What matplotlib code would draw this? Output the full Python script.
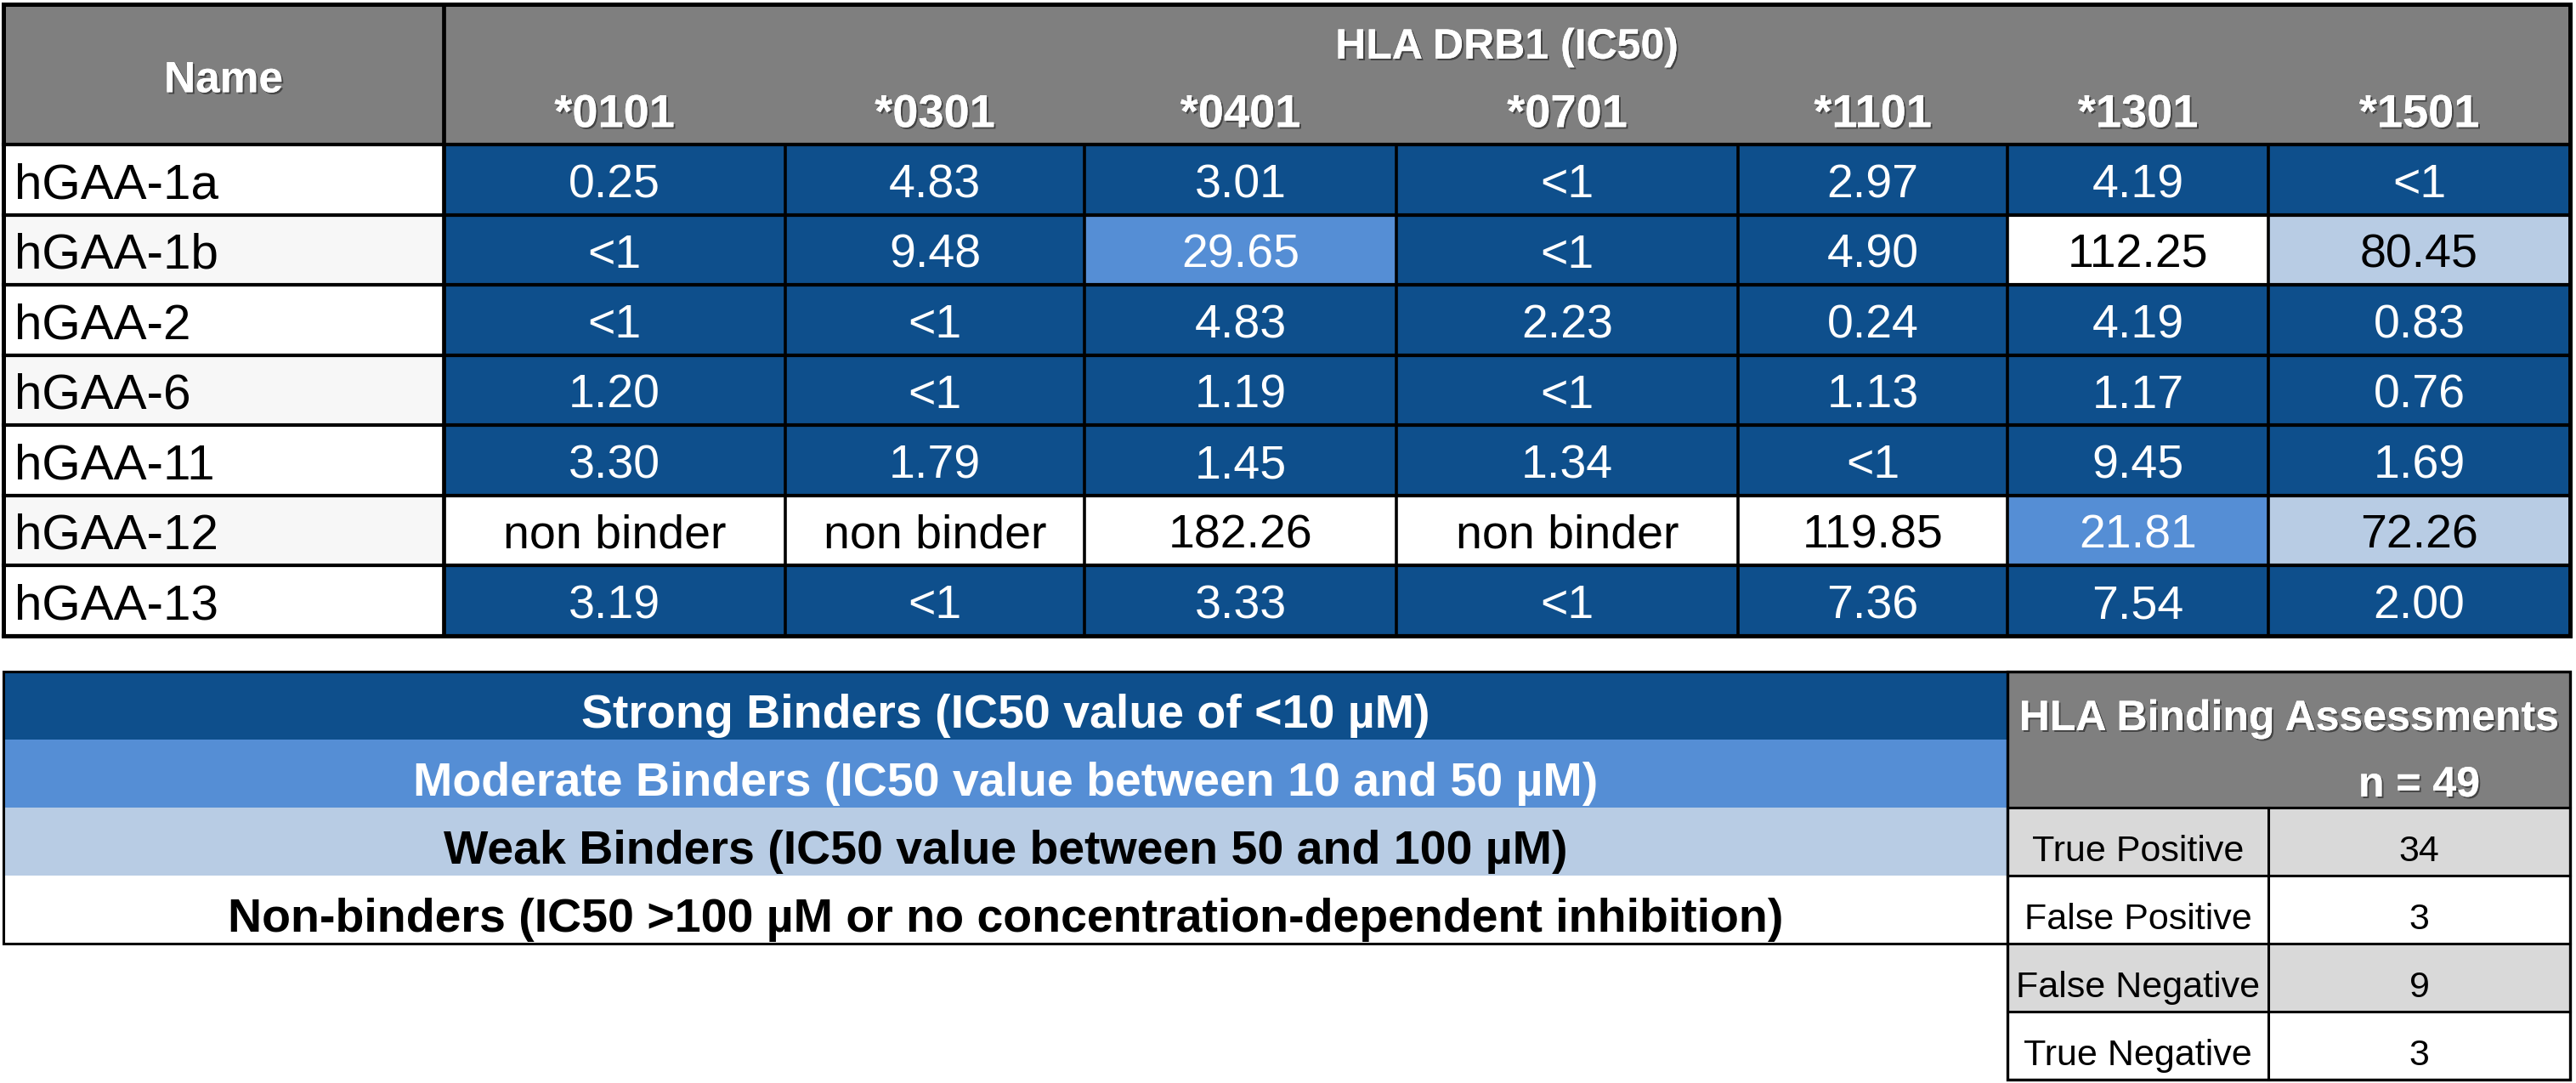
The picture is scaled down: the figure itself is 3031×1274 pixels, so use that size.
import matplotlib
matplotlib.use("Agg")
import matplotlib.pyplot as plt
from matplotlib.patches import Rectangle
import matplotlib.patheffects as pe

# ---------------- data ----------------
names = ["hGAA-1a", "hGAA-1b", "hGAA-2", "hGAA-6", "hGAA-11", "hGAA-12", "hGAA-13"]
alleles = ["*0101", "*0301", "*0401", "*0701", "*1101", "*1301", "*1501"]
ic50 = [
    ["0.25", "4.83", "3.01", "<1", "2.97", "4.19", "<1"],
    ["<1", "9.48", "29.65", "<1", "4.90", "112.25", "80.45"],
    ["<1", "<1", "4.83", "2.23", "0.24", "4.19", "0.83"],
    ["1.20", "<1", "1.19", "<1", "1.13", "1.17", "0.76"],
    ["3.30", "1.79", "1.45", "1.34", "<1", "9.45", "1.69"],
    ["non binder", "non binder", "182.26", "non binder", "119.85", "21.81", "72.26"],
    ["3.19", "<1", "3.33", "<1", "7.36", "7.54", "2.00"],
]
name_header = "Name"
table_title = "HLA DRB1 (IC50)"
legend_labels = [
    "Strong Binders (IC50 value of <10 \u00b5M)",
    "Moderate Binders (IC50 value between 10 and 50 \u00b5M)",
    "Weak Binders (IC50 value between 50 and 100 \u00b5M)",
    "Non-binders (IC50 >100 \u00b5M or no concentration-dependent inhibition)",
]
assess_title = "HLA Binding Assessments"
assess_n = "n = 49"
assess_labels = ["True Positive", "False Positive", "False Negative", "True Negative"]
assess_counts = [34, 3, 9, 3]

# ---------------- style ----------------
plt.rcParams["font.family"] = ["Liberation Sans", "DejaVu Sans"]
cat_fill = ["#0E4F8C", "#558ED5", "#B8CCE4", "#FFFFFF"]
cat_text = ["white", "white", "black", "black"]
HEAD_GRAY = "#7F7F7F"
LIGHT_GRAY = "#D9D9D9"
name_fill = ["#FFFFFF", "#F7F7F7"]
shadow = [pe.withSimplePatchShadow(offset=(1.5, -1.5), shadow_rgbFace="black", alpha=0.45), pe.Normal()]


def category(v):
    if v == "non binder":
        return 3
    if v.startswith("<"):
        return 0
    x = float(v)
    if x < 10:
        return 0
    if x < 50:
        return 1
    if x <= 100:
        return 2
    return 3


def cap(fs):
    # approximate cap height in pixels (dpi 100)
    return 0.716 * fs * 100 / 72


# ---------------- layout ----------------
W, H = 3031, 1274
col_edges = [4, 522, 924, 1276, 1643, 2045, 2362, 2669, 3024]
top_y0, body_y0, row_h = 5, 170, 82.5
low_y0, low_h = 790, 80
split_x = col_edges[6]

FS_NAME, FS_VAL, FS_HEAD, FS_TITLE, FS_ALLELE = 42, 40, 37, 36, 39
FS_LEG, FS_ATITLE, FS_AROW = 40, 36, 31

fig = plt.figure(figsize=(W / 100, H / 100), dpi=100)
ax = fig.add_axes([0, 0, 1, 1])
ax.set_xlim(0, W)
ax.set_ylim(H, 0)
ax.axis("off")


def rect(x0, y0, x1, y1, fc, lw=0, ec="black", z=1):
    ax.add_patch(Rectangle((x0, y0), x1 - x0, y1 - y0, facecolor=fc, edgecolor=ec if lw else "none",
                           linewidth=lw, zorder=z))


def line(x0, y0, x1, y1, lw=3.0, z=5):
    ax.plot([x0, x1], [y0, y1], color="black", lw=lw, solid_capstyle="projecting", zorder=z)


def txt(x, yc, s, fs, ha="center", color="black", bold=False, dy=0, fx=None):
    # yc = desired vertical centre of the capitals
    ax.text(x, yc + cap(fs) / 2 + dy, s, fontsize=fs, ha=ha, va="baseline", color=color,
            fontweight="bold" if bold else "normal", path_effects=fx, zorder=8)


# ---- top table ----
x_left, x_right = col_edges[0], col_edges[-1]
rect(x_left, top_y0, x_right, body_y0, HEAD_GRAY)
txt((col_edges[0] + col_edges[1]) / 2, 90, name_header, FS_HEAD, color="white", bold=True, fx=shadow)
txt((col_edges[1] + col_edges[-1]) / 2, 51, table_title, FS_TITLE, color="white", bold=True, fx=shadow)
for j, a in enumerate(alleles):
    txt((col_edges[j + 1] + col_edges[j + 2]) / 2, 130, a, FS_ALLELE, color="white", bold=True, fx=shadow)

for i, (nm, row) in enumerate(zip(names, ic50)):
    y0 = body_y0 + i * row_h
    y1 = y0 + row_h
    yc = (y0 + y1) / 2
    rect(col_edges[0], y0, col_edges[1], y1, name_fill[i % 2])
    txt(col_edges[0] + 13, yc + 1, nm, FS_NAME, ha="left")
    for j, v in enumerate(row):
        c = category(v)
        rect(col_edges[j + 1], y0, col_edges[j + 2], y1, cat_fill[c])
        txt((col_edges[j + 1] + col_edges[j + 2]) / 2, yc + 1, v, FS_VAL, color=cat_text[c])

body_y1 = body_y0 + len(names) * row_h
for i in range(len(names) + 1):
    y = body_y0 + i * row_h
    line(x_left, y, x_right, y, lw=3.0)
line(col_edges[1], top_y0, col_edges[1], body_y1, lw=3.4)
for x in col_edges[2:-1]:
    line(x, body_y0, x, body_y1, lw=2.6)
rect(x_left, top_y0, x_right, body_y1, "none", lw=3.6, z=6)

# ---- legend table ----
for k, lab in enumerate(legend_labels):
    y0 = low_y0 + k * low_h
    rect(col_edges[0], y0, split_x, y0 + low_h, cat_fill[k])
    txt((col_edges[0] + split_x) / 2, y0 + low_h / 2 + 6, lab, FS_LEG, color=cat_text[k], bold=True)
rect(col_edges[0], low_y0, split_x, low_y0 + len(legend_labels) * low_h, "none", lw=2.2, z=6)

# ---- assessments table ----
ra_x0, ra_xm, ra_x1 = col_edges[6], col_edges[7], col_edges[8]
rect(ra_x0, low_y0, ra_x1, low_y0 + 2 * low_h, HEAD_GRAY)
txt((ra_x0 + ra_x1) / 2, 841, assess_title, FS_ATITLE, color="white", bold=True, fx=shadow)
txt((ra_xm + ra_x1) / 2, 919, assess_n, FS_ATITLE, color="white", bold=True, fx=shadow)
ab_y0 = low_y0 + 2 * low_h
for k, (lab, cnt) in enumerate(zip(assess_labels, assess_counts)):
    y0 = ab_y0 + k * low_h
    fc = LIGHT_GRAY if k % 2 == 0 else "white"
    rect(ra_x0, y0, ra_x1, y0 + low_h, fc)
    txt((ra_x0 + ra_xm) / 2, y0 + low_h / 2 + 8, lab, FS_AROW)
    txt((ra_xm + ra_x1) / 2, y0 + low_h / 2 + 8, str(cnt), FS_AROW)
ab_y1 = ab_y0 + len(assess_labels) * low_h
for k in range(len(assess_labels) + 1):
    y = ab_y0 + k * low_h
    line(ra_x0, y, ra_x1, y, lw=2.2)
line(ra_xm, ab_y0, ra_xm, ab_y1, lw=2.2)
rect(ra_x0, low_y0, ra_x1, ab_y1, "none", lw=2.4, z=6)

fig.savefig("out.png", dpi=100, facecolor="white")
